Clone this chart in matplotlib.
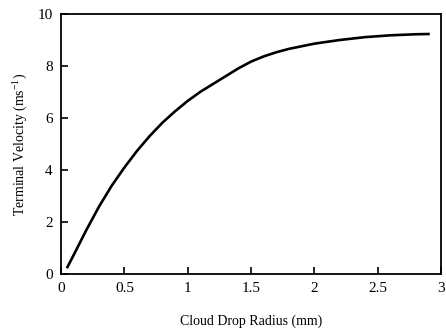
import matplotlib
matplotlib.use("Agg")
import matplotlib.pyplot as plt
from matplotlib.ticker import FormatStrFormatter

radius = [0.05, 0.1, 0.2, 0.3, 0.4, 0.5, 0.6, 0.7, 0.8, 0.9, 1.0, 1.1, 1.2,
          1.3, 1.4, 1.5, 1.6, 1.7, 1.8, 2.0, 2.2, 2.4, 2.6, 2.8, 2.9]
velocity = [0.27, 0.74, 1.7, 2.6, 3.4, 4.1, 4.74, 5.31, 5.82, 6.26, 6.66,
            7.01, 7.31, 7.61, 7.91, 8.17, 8.37, 8.53, 8.66, 8.86, 9.0,
            9.11, 9.18, 9.22, 9.23]

x_ticks = [0, 0.5, 1, 1.5, 2, 2.5, 3]
y_ticks = [0, 2, 4, 6, 8, 10]

plt.rcParams['font.family'] = ['Liberation Serif', 'DejaVu Serif']
plt.rcParams['mathtext.fontset'] = 'custom'
plt.rcParams['mathtext.rm'] = 'Liberation Serif'

fig = plt.figure(figsize=(4.46, 3.33), dpi=100)
ax = fig.add_axes([0.137, 0.177, 0.852, 0.781])

ax.plot(radius, velocity, color='black', lw=1.9, solid_joinstyle='round')

ax.set_xlim(0, 3)
ax.set_ylim(0, 10)
ax.set_xticks(x_ticks)
ax.set_yticks(y_ticks)
ax.xaxis.set_major_formatter(FormatStrFormatter('%g'))
ax.tick_params(direction='in', length=5, width=1.2, labelsize=11, pad=6)
for s in ax.spines.values():
    s.set_linewidth(1.3)

ax.set_xlabel('Cloud Drop Radius (mm)', fontsize=10, labelpad=14)
ax.set_ylabel('Terminal Velocity (ms$^{-1}$)', fontsize=10, labelpad=6)

fig.savefig('out.png', dpi=100)
